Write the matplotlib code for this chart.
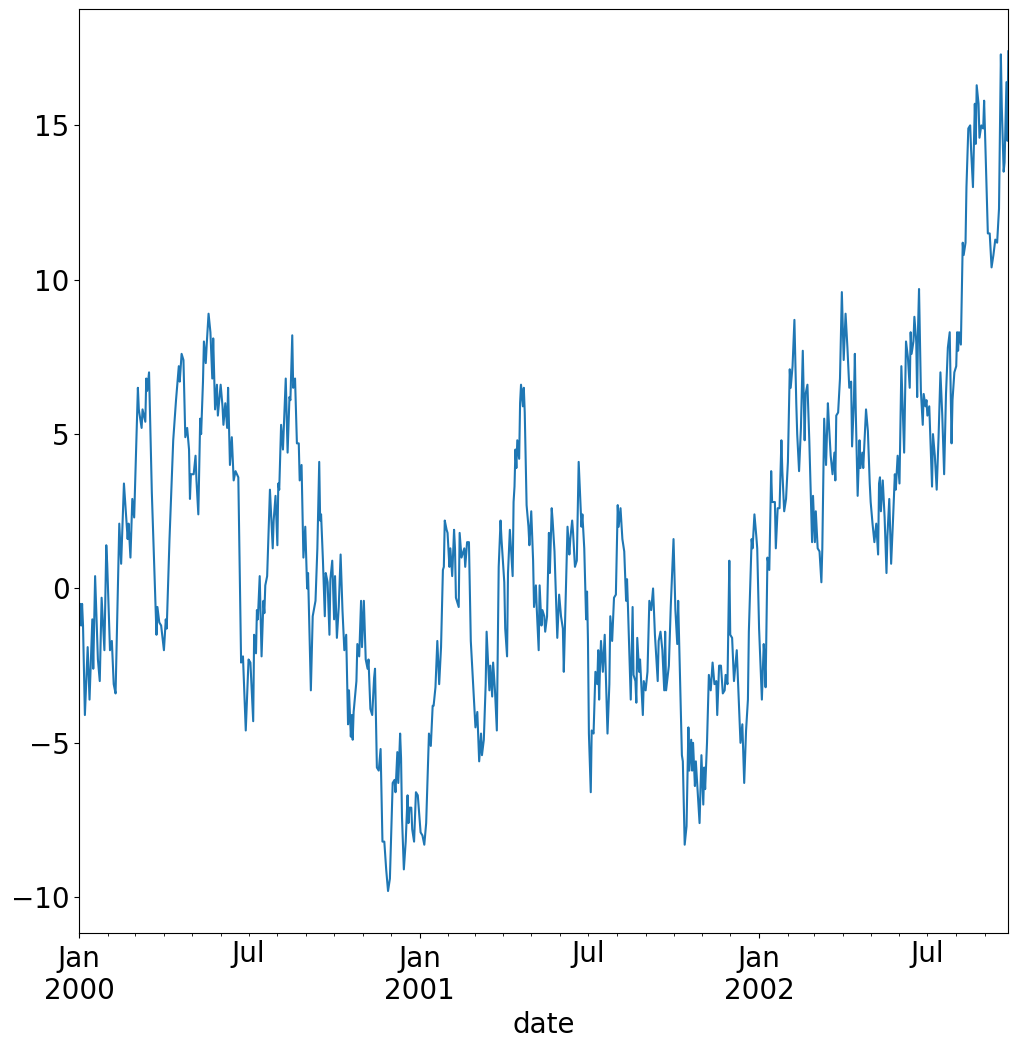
import matplotlib
matplotlib.use("Agg")
import matplotlib.pyplot as plt
import matplotlib.dates as mdates
from matplotlib.ticker import FuncFormatter
import pandas as pd

start_date = "2000-01-01"
end_day = 999

day_offsets = [
    0, 1, 2, 3, 4, 6, 9, 11, 14, 15, 17, 20, 22, 24, 27, 29, 30, 33, 35, 37, 39,
    43, 45, 48, 52, 53, 55, 57, 59, 63, 64, 67, 68, 71, 72, 73, 75, 78, 83, 84,
    86, 88, 91, 93, 94, 97, 101, 104, 107, 108, 110, 112, 114, 116, 118, 119,
    120, 123, 125, 126, 128, 130, 131, 133, 134, 136, 137, 139, 141, 143, 144,
    146, 148, 149, 152, 154, 155, 157, 159, 160, 162, 164, 166, 168, 171,
    174, 176, 179, 182, 184, 187, 188, 190, 191, 192, 194, 196, 198, 199, 200,
    202, 205, 208, 209, 211, 213, 214, 215, 217, 219, 222, 224, 226, 227, 229,
    230, 232, 234, 236, 237, 239, 241, 243, 245, 246, 249, 251, 254, 256, 258,
    259, 260, 262, 264, 265, 267, 269, 270, 272, 274, 275, 277, 279, 281, 283,
    285, 287, 289, 290, 292, 293, 294, 295, 298, 299, 301, 303, 304, 306, 308,
    310, 311, 313, 315, 317, 318,
    320, 322, 324, 326, 328, 330, 332, 334, 336, 337, 339,
    340, 342, 343, 345, 346, 347, 349, 351, 353, 354, 355, 357, 358, 360, 362,
    364, 365, 367, 369, 371, 373, 376, 378, 380, 381, 383, 385, 387, 389, 391,
    392, 393, 395, 396, 398, 399, 401, 403, 404, 405, 408, 409, 411, 414, 415,
    417, 419, 421, 423, 425, 426, 428, 430, 432, 433, 435, 437, 438, 441, 442,
    444, 445, 447, 449, 451, 453, 454, 457, 458, 460, 461, 463, 466, 467, 468,
    469, 470, 471, 473, 474, 475, 477, 478, 479, 481, 483, 484, 486, 488, 489,
    491, 492, 494, 495, 497, 498, 500, 501, 503, 505, 506, 508, 509, 511,
    514, 516, 518, 520, 521, 523, 525, 527, 528, 530, 531, 533, 535, 537, 538,
    540, 541, 543, 545, 546, 547, 548, 550, 551, 553, 555, 557, 558, 559, 560,
    561, 563, 565, 568, 570, 571, 573, 575, 577, 579, 580, 582, 584, 586, 588,
    589, 590, 593, 595, 596, 598, 599, 600, 602, 603, 606, 607, 609, 611, 613,
    615, 617, 619, 621, 622, 623, 625, 627, 629, 630, 631, 634, 636, 638, 639,
    641, 643, 644, 646, 648, 649, 651, 653, 655, 656, 658, 659, 660, 662, 663,
    665, 667, 669, 671, 672, 673, 675, 677, 679, 681, 683,
    685, 686, 688, 690, 692, 694, 695, 697, 699, 700, 702, 704, 707, 710, 711,
    713, 715, 717, 719, 720, 723, 724, 726, 728, 729, 731, 734, 736, 737, 738,
    740, 742, 744, 745, 748, 749, 751, 753, 755, 756, 758, 760, 762, 764, 765,
    767, 769, 771, 772, 774, 776, 778, 780, 781, 783, 785, 787, 788, 789, 791,
    792, 794, 796, 798, 799, 801, 803, 805, 806, 808, 810, 812, 813, 814, 816,
    818, 820, 822, 824, 826, 828, 830, 831, 833, 834, 835, 837, 839, 840,
    842, 843, 846, 848, 850, 851, 853, 855, 857, 859, 860, 861, 862, 864, 866,
    868, 869, 871, 873, 875, 877, 878, 880, 882, 884, 887, 889, 891, 893, 894,
    895, 897, 898, 900, 901, 902, 903, 905, 907, 908, 910, 911, 912, 914, 916,
    917, 918, 920, 922, 924, 926, 928, 930, 932, 934, 936, 938, 939, 941, 943,
    944, 945, 946, 948,
    950, 951, 953, 954, 956, 958, 959, 961, 963, 964, 965, 967, 968, 970, 972,
    973, 975, 977, 979, 981, 983, 985, 987, 989, 991, 992, 994, 995, 997, 998,
    999,
]

values = [
    -0.6, -0.5, -1.2, -0.5, -1.2, -4.1, -1.9, -3.6, -1.0, -2.6, 0.4, -2.3, -3.0,
    -0.3, -2.0, 1.4, 0.8, -2.0, -1.7, -3.1, -3.4,
    2.1, 0.8, 3.4, 1.6, 2.1, 1.0, 2.9, 2.3, 6.5, 5.8, 5.2, 5.8, 5.4, 6.8, 6.4,
    7.0, 3.1, -1.5, -0.6,
    -1.1, -1.2, -2.0, -1.0, -1.3, 1.6, 4.8, 6.1, 7.2, 6.7, 7.6, 7.4, 4.9, 5.2,
    4.5, 2.9,
    3.7, 3.7, 4.3, 3.5, 2.4, 5.5, 5.0, 6.7, 8.0, 7.3, 7.9, 8.9, 8.3, 6.8, 8.1,
    5.8, 6.6, 5.6, 6.6, 5.9, 5.3, 6.0, 5.2, 6.5, 4.0, 4.9, 3.5, 3.8, 3.6,
    -2.4, -2.2, -4.6, -2.3, -2.4, -4.3, -1.5, -2.1, -0.7, -1.0, 0.4, -2.2, -0.4,
    -0.8, 0.1,
    0.4, 3.2, 1.3, 2.2, 3.0, 1.4, 3.4, 3.2, 5.3, 4.5, 6.8, 4.4, 6.2, 6.1, 8.2,
    6.5, 6.8, 4.7, 4.7, 3.5, 4.0, 1.0, 2.0, 0.0, 0.5, -3.3, -0.9, -0.4, 1.3, 4.1,
    2.2, 2.4, 0.9, -0.9, 0.5, 0.2, -1.5, 0.3, 0.9, -1.0, 0.4, -1.6, -0.6, 1.1,
    -0.7,
    -2.0, -1.5, -4.4, -3.3, -4.8, -4.1, -4.9, -4.0, -3.0, -1.8, -2.2, -0.4, -1.9,
    -0.4, -2.3,
    -2.6, -2.3, -3.9, -4.1, -2.9, -2.6,
    -5.8, -5.9, -5.2, -8.2, -8.2, -9.1, -9.8, -9.4, -7.3, -6.3, -6.2,
    -6.6, -5.3, -6.3, -4.7, -5.5, -7.4, -9.1, -8.2, -6.7, -7.6, -7.1, -7.1, -7.8,
    -8.2, -6.6,
    -6.7, -7.1, -7.9, -8.0, -8.3, -7.6, -4.7, -5.1, -3.8, -3.8, -3.2, -1.7, -3.1,
    -1.9, 0.6,
    0.7, 2.2, 1.9, 1.8, 0.7, 1.3, 0.4, 1.9, 1.3, -0.3, -0.6, 1.8, 1.0, 1.3, 0.7,
    1.5, 1.5, -1.7, -2.8, -3.9, -4.5, -4.0, -5.6, -4.7, -5.4, -4.9, -3.1, -1.4,
    -3.3, -2.5,
    -3.5, -2.4, -3.3, -4.6, 0.7, 2.2, 1.6, 0.2, -1.3, -2.2, 0.5, 1.9, 0.4, 2.8,
    3.3,
    4.5, 3.9, 4.8, 4.2, 6.0, 6.6, 5.9, 6.5, 5.7, 2.7, 2.0, 1.4, 2.5, 0.9, -0.6,
    0.1, -0.7, -2.0, 0.1, -1.2, -0.7, -0.9, -1.4, -0.9, 1.8, 0.5, 2.6, 2.2, 1.2,
    -1.6, -0.2, -0.9, -1.3, -2.7, -0.3, 2.0, 1.1, 1.6, 2.2, 1.8, 0.7, 0.9, 4.1,
    3.4,
    2.0, 2.4, 1.3, -1.0, -0.1, -1.7, -4.7, -6.6, -4.6, -4.7, -2.7, -3.1, -2.0,
    -3.6, -2.5,
    -1.7, -2.7, -1.5, -4.7, -3.1, -0.9, -1.7, -0.3, -0.2, 2.7, 2.0, 2.6, 1.6,
    1.2, -0.4,
    0.3, -0.6, -3.6, -0.6, -2.8, -3.0, -3.7, -1.6, -2.7, -2.3, -4.1, -3.0, -3.3,
    -2.7, -0.4,
    -0.7, 0.0, -1.5, -2.5, -3.0, -1.7, -1.4, -2.0, -3.3, -1.4, -3.3, -2.5, -0.6,
    0.9, 1.6,
    -0.7, -1.8, -0.4, -2.9, -5.4, -5.6, -8.3, -7.7, -4.5, -5.9, -4.9, -5.9,
    -5.0, -6.4, -5.6,
    -6.6, -7.6, -5.4, -7.0, -5.8, -6.5, -5.0, -2.8, -3.3, -2.4, -3.1,
    -3.0, -4.1, -2.5, -2.5, -3.4, -3.3, -2.8, -3.1, 0.9, -1.5, -1.6, -3.0, -2.0,
    -4.2, -5.0,
    -4.4, -6.3, -4.6, -3.6, -1.4, 1.6, 1.3, 2.4, 1.7, 1.3, -1.3, -3.6, -1.8,
    -2.3, -3.2,
    1.0, 0.6, 3.8, 2.8, 2.8, 1.3, 2.6, 2.6, 4.8, 3.8, 2.5, 2.9, 4.1, 7.1, 6.5,
    7.2, 8.7, 6.0, 5.0, 3.8, 5.2, 7.7, 4.8, 6.3, 6.6, 4.8, 2.6, 1.5, 3.0, 1.5,
    2.5, 1.3, 1.2, 0.2, 1.3, 5.5, 4.0, 6.0, 5.4, 4.3, 3.7, 4.4, 3.5, 5.6, 5.7,
    6.8, 9.6, 7.4, 8.9, 7.8, 6.5, 6.7, 4.6, 6.1, 7.6, 5.7, 3.0, 4.8, 3.9,
    4.4, 3.9, 5.8, 5.1, 3.4, 2.8, 2.1, 1.5, 2.1, 1.1, 3.4, 3.6, 2.5, 3.5, 2.3,
    0.5, 1.7, 2.9, 0.8, 2.2, 3.7, 3.2, 4.3, 3.4, 7.2, 4.4, 8.0, 7.5, 6.5, 8.3,
    7.6, 8.0, 8.8, 8.0, 6.2, 8.5, 9.7, 6.4, 5.3, 6.3, 5.9, 6.1, 5.6, 5.9, 4.2,
    3.3, 5.0, 4.3, 3.2, 4.9, 7.0, 5.6, 3.7, 6.3, 7.8, 8.3, 4.7, 6.1, 7.0, 7.2,
    8.3, 7.7, 8.3, 7.9,
    11.2, 10.8, 11.2, 13.0, 14.9, 15.0, 14.2, 13.0, 15.7, 14.4, 16.3, 15.7, 14.6,
    15.0, 14.9,
    15.8, 13.7, 11.5, 11.5, 10.4, 10.8, 11.3, 11.2, 12.3, 17.3, 15.6, 13.5, 13.8,
    16.4, 14.5,
    17.4,
]

x_label = "date"

t0 = pd.Timestamp(start_date)
dates = [t0 + pd.Timedelta(days=d) for d in day_offsets]

W, H = 1018, 1053
fig = plt.figure(figsize=(W / 100, H / 100), dpi=100)
left, right, top, bottom = 79.3, 1008.3, 9.3, 933
ax = fig.add_axes([left / W, 1 - bottom / H, (right - left) / W, (bottom - top) / H])
ax.plot(dates, values, color="#1f77b4", linewidth=1.5)

ax.set_xlim(t0, t0 + pd.Timedelta(days=end_day))
ax.margins(y=0.05)

ax.xaxis.set_major_locator(mdates.MonthLocator(bymonth=1))
ax.xaxis.set_minor_locator(mdates.MonthLocator())


def major_fmt(x, pos=None):
    d = mdates.num2date(x)
    return d.strftime("%b") + "\n" + d.strftime("%Y")


def minor_fmt(x, pos=None):
    d = mdates.num2date(x)
    return "Jul" if d.month == 7 else ""


ax.xaxis.set_major_formatter(FuncFormatter(major_fmt))
ax.xaxis.set_minor_formatter(FuncFormatter(minor_fmt))
ax.tick_params(axis="both", which="both", labelsize=20)
ax.tick_params(axis="x", which="major", pad=5)
ax.set_yticks([-10, -5, 0, 5, 10, 15])
ax.set_xlabel(x_label, fontsize=20)

fig.savefig("out.png", dpi=100)
